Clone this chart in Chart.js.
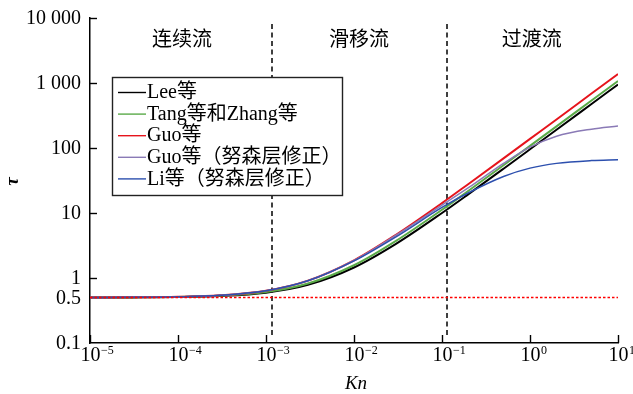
<!DOCTYPE html>
<html>
<head>
<meta charset="utf-8">
<script src="https://cdn.jsdelivr.net/npm/chart.js@4.4.1/dist/chart.umd.min.js"></script>
<style>
  html, body { margin: 0; padding: 0; background: #fff; }
  #wrap { width: 633px; height: 394px; }
</style>
</head>
<body>
<div id="wrap"><canvas id="c" width="633" height="394"></canvas></div>
<script>
// Kn 取样点
const kn = [1e-5, 3e-5, 1e-4, 3e-4, 1e-3, 3e-3, 1e-2, 3e-2, 0.1, 0.2, 0.5, 1, 2, 5, 10];

// 各模型 τ 值
const tauLee   = [0.501, 0.503, 0.5095, 0.529, 0.595, 0.785, 1.45, 3.35, 10.0, 19.5, 48.0, 95.5, 190.5, 475.5, 950];
const tauTang  = [0.5011, 0.5032, 0.5107, 0.532, 0.607, 0.822, 1.57, 3.72, 11.2, 22.0, 54.2, 108, 215, 538, 1075];
const tauGuo   = [0.5014, 0.5041, 0.5137, 0.541, 0.637, 0.912, 1.87, 4.62, 14.2, 28.0, 69.2, 138, 275, 688, 1375];
const tauGuoKL = [0.5014, 0.5041, 0.5137, 0.541, 0.636, 0.91, 1.86, 4.55, 13.2, 24.5, 58, 103, 152, 195, 218];
const tauLiKL  = [0.5014, 0.5041, 0.5137, 0.541, 0.636, 0.905, 1.83, 4.3, 12.2, 20.5, 36.5, 49, 58, 64, 66];

const seriesNames = ['Lee等', 'Tang等和Zhang等', 'Guo等', 'Guo等（努森层修正）', 'Li等（努森层修正）'];
const seriesColors = ['#000000', '#5aaa48', '#e6141c', '#8a7ab6', '#2c4fae'];

// 流区分界与标注
const boundaries = [1.17e-3, 0.114];
const boundaryY = [0.133, 9100];
const regionNames = ['连续流', '滑移流', '过渡流'];
const regionX = [1.11e-4, 1.14e-2, 1.05];
const regionY = 4900;
const baseKn = [1e-5, 10];
const baseTau = [0.5, 0.5];

const xTicks = [1e-5, 1e-4, 1e-3, 1e-2, 1e-1, 1, 10];
const xExp = ['−5', '−4', '−3', '−2', '−1', '0', '1'];
const yTicks = [0.1, 0.5, 1, 10, 100, 1000, 10000];
const yLabels = ['0.1', '0.5', '1', '10', '100', '1 000', '10 000'];

const SERIF = '"Liberation Serif", "Times New Roman", serif';
const MIXED = '"Liberation Serif", "Noto Sans CJK SC", serif';
const CJK = '"Noto Sans CJK SC", sans-serif';

const pts = (xs, ys) => xs.map((x, i) => ({ x: x, y: ys[i] }));

const datasets = [];
[tauLee, tauTang, tauGuo, tauGuoKL, tauLiKL].forEach((arr, i) => {
  datasets.push({
    label: seriesNames[i],
    data: pts(kn, arr),
    borderColor: seriesColors[i],
    borderWidth: i < 3 ? 2 : 1.5,
    pointRadius: 0,
    cubicInterpolationMode: 'monotone',
    fill: false,
    inLegend: true,
    order: 5 - i
  });
});
boundaries.forEach((b) => {
  datasets.push({
    label: '',
    data: pts([b, b], boundaryY),
    borderColor: '#000',
    borderWidth: 1.5,
    borderDash: [5, 3.5],
    pointRadius: 0,
    inLegend: false,
    order: 10
  });
});
datasets.push({
  label: '',
  data: pts(baseKn, baseTau),
  borderColor: '#ff0000',
  borderWidth: 1.4,
  borderDash: [2.5, 2],
  pointRadius: 0,
  inLegend: false,
  order: 0
});

const decor = {
  id: 'decor',
  afterDraw(chart) {
    const ctx = chart.ctx;
    const xs = chart.scales.x, ys = chart.scales.y;
    const area = chart.chartArea;
    ctx.save();
    ctx.strokeStyle = '#000';
    ctx.fillStyle = '#000';
    ctx.lineWidth = 1.4;

    // x 轴刻度（向内）与标签
    xTicks.forEach((v, i) => {
      const px = Math.round(xs.getPixelForValue(v)) + 0.5;
      ctx.beginPath();
      ctx.moveTo(px, area.bottom);
      ctx.lineTo(px, area.bottom - 8);
      ctx.stroke();
      ctx.font = '20px ' + SERIF;
      ctx.textAlign = 'center';
      ctx.textBaseline = 'alphabetic';
      ctx.fillText('10', px, 361);
      const w = ctx.measureText('10').width;
      ctx.font = '12px ' + SERIF;
      ctx.textAlign = 'left';
      ctx.fillText(xExp[i], px + w / 2 + 0.5, 354);
    });

    // y 轴刻度（向内）与标签
    yTicks.forEach((v, i) => {
      const py = Math.round(ys.getPixelForValue(v)) + 0.5;
      if (v !== 0.5 && v !== 0.1) {
        ctx.beginPath();
        ctx.moveTo(area.left, py);
        ctx.lineTo(area.left + 7, py);
        ctx.stroke();
      }
      ctx.font = '20px ' + SERIF;
      ctx.textAlign = 'right';
      ctx.textBaseline = 'middle';
      ctx.fillText(yLabels[i], 81, py);
    });

    // 轴标题
    ctx.font = 'italic 19px ' + SERIF;
    ctx.textAlign = 'center';
    ctx.textBaseline = 'alphabetic';
    ctx.fillText('Kn', 356, 389);
    ctx.save();
    ctx.translate(13, (area.top + area.bottom) / 2 + 1);
    ctx.rotate(-Math.PI / 2);
    ctx.font = 'italic bold 19px ' + SERIF;
    ctx.textBaseline = 'middle';
    ctx.fillText('τ', 0, 0);
    ctx.restore();

    // 流区名称
    ctx.font = '20px ' + CJK;
    ctx.textBaseline = 'middle';
    regionNames.forEach((t, i) => {
      ctx.fillText(t, xs.getPixelForValue(regionX[i]), ys.getPixelForValue(regionY));
    });

    // 图例
    const bx = 112.5, by = 77.5, bw = 230, bh = 118;
    ctx.fillStyle = '#fff';
    ctx.fillRect(bx, by, bw, bh);
    ctx.strokeStyle = '#222';
    ctx.lineWidth = 1.4;
    ctx.strokeRect(bx, by, bw, bh);
    const items = chart.data.datasets.filter(d => d.inLegend);
    ctx.font = '20px ' + MIXED;
    ctx.textAlign = 'left';
    ctx.textBaseline = 'middle';
    items.forEach((d, i) => {
      const ry = 92 + i * 21.6;
      ctx.strokeStyle = d.borderColor;
      ctx.lineWidth = 1.4;
      ctx.beginPath();
      ctx.moveTo(118, ry + 0.5);
      ctx.lineTo(146, ry + 0.5);
      ctx.stroke();
      ctx.fillStyle = '#000';
      ctx.fillText(d.label, 147, ry + 1);
    });
    ctx.restore();
  }
};

new Chart(document.getElementById('c'), {
  type: 'line',
  data: { datasets: datasets },
  options: {
    responsive: false,
    animation: false,
    layout: { padding: { left: 0, top: 18, right: 15, bottom: 0 } },
    plugins: { legend: { display: false }, tooltip: { enabled: false } },
    scales: {
      x: {
        type: 'logarithmic',
        min: 1e-5,
        max: 10,
        grid: { display: false },
        border: { display: true, color: '#000', width: 1.5 },
        ticks: { display: false },
        afterFit(scale) { scale.height = 51; }
      },
      y: {
        type: 'logarithmic',
        min: 0.1,
        max: 10000,
        grid: { display: false },
        border: { display: true, color: '#000', width: 1.5 },
        ticks: { display: false },
        afterFit(scale) { scale.width = 90; }
      }
    }
  },
  plugins: [decor]
});
</script>
</body>
</html>
